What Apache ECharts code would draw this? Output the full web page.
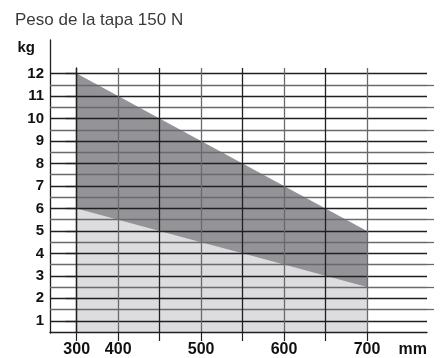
<!DOCTYPE html>
<html>
<head>
<meta charset="utf-8">
<script src="https://cdn.jsdelivr.net/npm/echarts@6/dist/echarts.min.js"></script>
<style>
  html, body { margin: 0; padding: 0; background: #fff; }
  #chart { width: 441px; height: 358px; }
</style>
</head>
<body>
<div id="chart"></div>
<script>
// x positions: one grid column per 50 mm, except 300 -> 400 which is squeezed in one column
const xIdx = [0, 1, 2, 3, 4, 5, 6, 7]
const xLabels = ['300', '400', '', '500', '', '600', '', '700']
const xLabelIdx = [0, 1, 3, 5, 7]

// kg values
const upperKg = [12, 11, 10, 9, 8, 7, 6, 5]
const lowerKg = [6, 5.5, 5, 4.5, 4, 3.5, 3, 2.5]

const yTicks = [1, 2, 3, 4, 5, 6, 7, 8, 9, 10, 11, 12]
const yHalfTicks = [1.5, 2.5, 3.5, 4.5, 5.5, 6.5, 7.5, 8.5, 9.5, 10.5, 11.5]

const dark = '#231f20'
const grey = '#6a6a6d'
const font = 'Liberation Sans, Arial, sans-serif'

const chart = echarts.init(document.getElementById('chart'))

const option = {
  animation: false,
  title: {
    text: 'Peso de la tapa 150 N',
    left: 15,
    top: 12,
    padding: 0,
    textStyle: { fontFamily: font, fontSize: 17, fontWeight: 'normal', color: '#3a3a3a' }
  },
  grid: [
    { left: 50, right: 14, top: 68, bottom: 25 },
    { left: 50, right: 14, top: 40, bottom: 25 }
  ],
  xAxis: [
    {
      type: 'value',
      gridIndex: 0,
      min: -0.644,
      max: 8.447,
      z: 5,
      axisLine: { show: true, lineStyle: { color: dark, width: 1.3 } },
      axisTick: { show: true, customValues: xIdx, length: 9, lineStyle: { color: dark, width: 1.2 } },
      axisLabel: {
        customValues: xLabelIdx,
        formatter: v => xLabels[v],
        margin: 10,
        fontFamily: font,
        fontSize: 16,
        fontWeight: 'bold',
        color: '#111'
      },
      splitLine: { show: true, lineStyle: { color: [dark, grey], width: 1.3 } },
      name: 'mm',
      nameLocation: 'end',
      nameGap: 0,
      nameTextStyle: {
        fontFamily: font, fontSize: 16, fontWeight: 'bold', color: '#111',
        align: 'right', verticalAlign: 'top', padding: [10, 0, 0, 0]
      }
    },
    { type: 'value', gridIndex: 1, show: false, min: 0, max: 1 }
  ],
  yAxis: [
    {
      type: 'value',
      gridIndex: 0,
      min: 0.5,
      max: 12.25,
      z: 5,
      axisLine: { show: true, lineStyle: { color: dark, width: 1.3 } },
      axisTick: { show: true, customValues: yTicks, length: 11, lineStyle: { color: dark, width: 1.3 } },
      axisLabel: {
        customValues: yTicks,
        margin: 6,
        fontFamily: font,
        fontSize: 15,
        fontWeight: 'bold',
        color: '#111'
      },
      splitLine: { show: true, lineStyle: { color: dark, width: 1.3 } }
    },
    {
      type: 'value',
      gridIndex: 0,
      min: 0.5,
      max: 12.25,
      z: 5,
      axisLine: { show: false },
      axisTick: { show: true, customValues: yHalfTicks, length: 7, lineStyle: { color: grey, width: 1.3 } },
      axisLabel: { show: false },
      splitLine: { show: true, lineStyle: { color: grey, width: 1.3 } }
    },
    {
      type: 'value',
      gridIndex: 1,
      min: 0,
      max: 1,
      axisLine: { show: true, lineStyle: { color: dark, width: 1.3 } },
      axisTick: { show: false },
      axisLabel: { show: false },
      splitLine: { show: false },
      name: 'kg',
      nameLocation: 'end',
      nameGap: 0,
      nameTextStyle: {
        fontFamily: font, fontSize: 15, fontWeight: 'bold', color: '#111',
        align: 'right', verticalAlign: 'top', padding: [0, 15, 0, 0]
      }
    }
  ],
  series: [
    {
      type: 'line',
      xAxisIndex: 0,
      yAxisIndex: 0,
      z: 1,
      symbol: 'none',
      lineStyle: { width: 0 },
      areaStyle: { color: '#949498', opacity: 1, origin: 'start' },
      data: xIdx.map((x, i) => [x, upperKg[i]])
    },
    {
      type: 'line',
      xAxisIndex: 0,
      yAxisIndex: 0,
      z: 1,
      symbol: 'none',
      lineStyle: { width: 0 },
      areaStyle: { color: '#dddddf', opacity: 1, origin: 'start' },
      data: xIdx.map((x, i) => [x, lowerKg[i]])
    }
  ]
}

chart.setOption(option)
</script>
</body>
</html>
